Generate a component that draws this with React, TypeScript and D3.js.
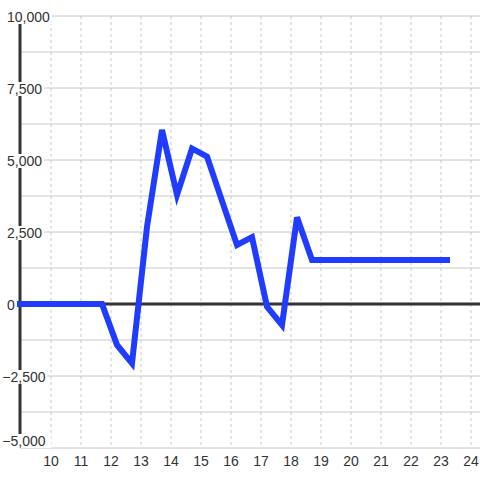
import React from "react";
import * as d3 from "d3";

const xValues = [8.7, 9.2, 9.7, 10.2, 10.7, 11.2, 11.7, 12.2, 12.7, 13.2, 13.7, 14.2, 14.7, 15.2, 15.7, 16.2, 16.7, 17.2, 17.7, 18.2, 18.7, 19.2, 19.7, 20.2, 20.7, 21.2, 21.7, 22.2, 22.7, 23.2];
const yValues = [0, 0, 0, 0, 0, 0, 0, -1420, -2060, 2680, 6040, 3790, 5400, 5120, 3580, 2050, 2320, -90, -730, 3010, 1530, 1530, 1530, 1530, 1530, 1530, 1530, 1530, 1530, 1530];
const xTicks = [10, 11, 12, 13, 14, 15, 16, 17, 18, 19, 20, 21, 22, 23, 24];
const yLabelTicks = [10000, 7500, 5000, 2500, 0, -2500, -5000];
const yGridTicks = [10000, 8750, 7500, 6250, 5000, 3750, 2500, 1250, 0, -1250, -2500, -3750, -5000];

export default function App() {
  const W = 480, H = 480;
  const x = d3.scaleLinear().domain([10, 24]).range([51, 471]);
  const y = d3.scaleLinear().domain([-5000, 10000]).range([448, 16]);
  const left = 20;
  const fmt = d3.format(",");
  const pts = xValues.map((v, i) => [v, yValues[i]] as [number, number]);
  const line = d3.line<[number, number]>().x(d => x(d[0])).y(d => y(d[1]));
  const font = "'Liberation Sans', Arial, sans-serif";
  const charW = (c: string) => (c === "," ? 3.9 : c === "-" ? 4.7 : 7.8);
  return (
    <svg width={W} height={H} style={{ position: "absolute", left: 0, top: 0, background: "#fff" }}>
      <defs>
        <clipPath id="plot">
          <rect x={17} y={0} width={W - 17} height={H} />
        </clipPath>
      </defs>
      {yGridTicks.filter(t => t !== 0).map(t => (
        <line key={"h" + t} x1={left} x2={W} y1={y(t)} y2={y(t)} stroke="#c8c8c8" strokeWidth={1} />
      ))}
      {xTicks.map(t => (
        <line key={"v" + t} x1={x(t)} x2={x(t)} y1={y(10000)} y2={y(-5000)} stroke="#c8c8c8" strokeWidth={1} strokeDasharray="3,3" />
      ))}
      <line x1={left} x2={left} y1={y(10000)} y2={y(-5000)} stroke="#333" strokeWidth={3} />
      {yLabelTicks.map((t, i) => {
        const label = fmt(t);
        const isBottom = i === yLabelTicks.length - 1;
        const cy = isBottom ? y(t) - 7 : y(t) + 1;
        const w = label.split("").reduce((s, c) => s + charW(c), 0);
        const x0 = t < 0 ? 7 - 4.7 : 7;
        return (
          <g key={"yl" + t}>
            <rect x={x0 - 1} y={cy - 7} width={w + (isBottom ? 7 : 3)} height={14} fill="#fff" />
            <text x={x0} y={cy} dy="0.35em" textAnchor="start" fontFamily={font} fontSize={14} fill="#333">{label}</text>
          </g>
        );
      })}
      <line x1={17} x2={W} y1={y(0)} y2={y(0)} stroke="#333" strokeWidth={3} />
      <path d={line(pts) || ""} fill="none" stroke="#1f3cff" strokeWidth={6} strokeLinejoin="miter" strokeLinecap="square" clipPath="url(#plot)" />
      {xTicks.map(t => (
        <text key={"xl" + t} x={x(t)} y={461} dy="0.35em" textAnchor="middle" fontFamily={font} fontSize={14} fill="#333">{t}</text>
      ))}
    </svg>
  );
}
